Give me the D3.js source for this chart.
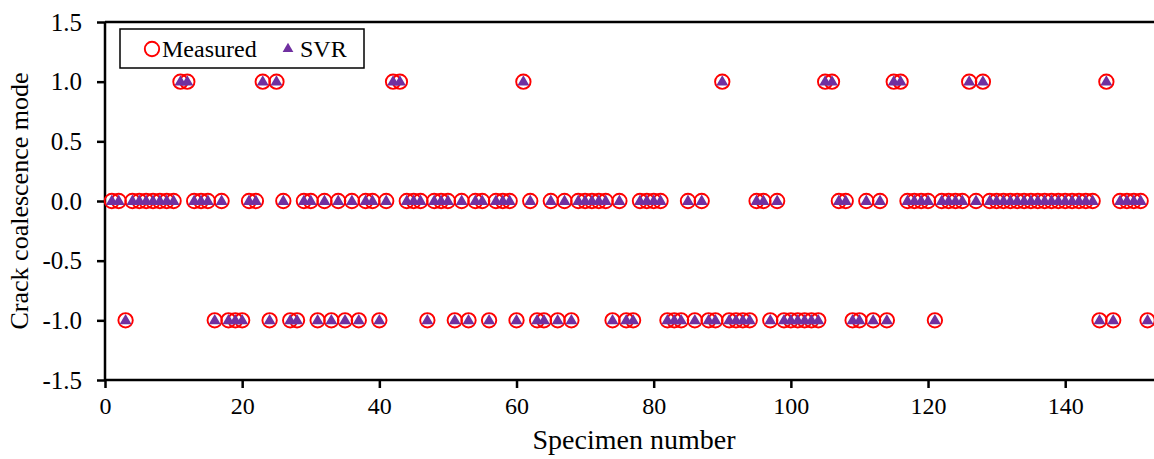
<!DOCTYPE html>
<html>
<head>
<meta charset="utf-8">
<script src="https://cdn.jsdelivr.net/npm/d3@7"></script>
<style>
  html, body { margin: 0; padding: 0; background: #fff; }
  svg { display: block; font-family: "Liberation Serif", "Times New Roman", serif; }
</style>
</head>
<body>
<svg id="chart" width="1154" height="459"></svg>
<script>
// Measured crack coalescence mode for specimens 1..152
const measured = [
  0, 0, -1, 0, 0, 0, 0, 0, 0, 0,
  1, 1, 0, 0, 0, -1, 0, -1, -1, -1,
  0, 0, 1, -1, 1, 0, -1, -1, 0, 0,
  -1, 0, -1, 0, -1, 0, -1, 0, 0, -1,
  0, 1, 1, 0, 0, 0, -1, 0, 0, 0,
  -1, 0, -1, 0, 0, -1, 0, 0, 0, -1,
  1, 0, -1, -1, 0, -1, 0, -1, 0, 0,
  0, 0, 0, -1, 0, -1, -1, 0, 0, 0,
  0, -1, -1, -1, 0, -1, 0, -1, -1, 1,
  -1, -1, -1, -1, 0, 0, -1, 0, -1, -1,
  -1, -1, -1, -1, 1, 1, 0, 0, -1, -1,
  0, -1, 0, -1, 1, 1, 0, 0, 0, 0,
  -1, 0, 0, 0, 0, 1, 0, 1, 0, 0,
  0, 0, 0, 0, 0, 0, 0, 0, 0, 0,
  0, 0, 0, 0, -1, 1, -1, 0, 0, 0,
  0, -1
];
// SVR predictions (identical to measured in the figure)
const svr = [
  0, 0, -1, 0, 0, 0, 0, 0, 0, 0,
  1, 1, 0, 0, 0, -1, 0, -1, -1, -1,
  0, 0, 1, -1, 1, 0, -1, -1, 0, 0,
  -1, 0, -1, 0, -1, 0, -1, 0, 0, -1,
  0, 1, 1, 0, 0, 0, -1, 0, 0, 0,
  -1, 0, -1, 0, 0, -1, 0, 0, 0, -1,
  1, 0, -1, -1, 0, -1, 0, -1, 0, 0,
  0, 0, 0, -1, 0, -1, -1, 0, 0, 0,
  0, -1, -1, -1, 0, -1, 0, -1, -1, 1,
  -1, -1, -1, -1, 0, 0, -1, 0, -1, -1,
  -1, -1, -1, -1, 1, 1, 0, 0, -1, -1,
  0, -1, 0, -1, 1, 1, 0, 0, 0, 0,
  -1, 0, 0, 0, 0, 1, 0, 1, 0, 0,
  0, 0, 0, 0, 0, 0, 0, 0, 0, 0,
  0, 0, 0, 0, -1, 1, -1, 0, 0, 0,
  0, -1
];
const specimens = measured.map((_, i) => i + 1);
const xTicks = [0, 20, 40, 60, 80, 100, 120, 140];
const yTicks = [-1.5, -1.0, -0.5, 0.0, 0.5, 1.0, 1.5];
const xTitle = "Specimen number";
const yTitle = "Crack coalescence mode";
const seriesNames = ["Measured", "SVR"];

const svg = d3.select("#chart");
const W = 1154, H = 459;
const m = { left: 105, right: 1, top: 22, bottom: 79 };

svg.append("rect").attr("width", W).attr("height", H).attr("fill", "#fff");

const x = d3.scaleLinear().domain([0, 152.8]).range([m.left, W - m.right]);
const y = d3.scaleLinear().domain([-1.5, 1.5]).range([H - m.bottom, m.top]);

// top border of plot area
svg.append("line")
  .attr("x1", m.left).attr("x2", W)
  .attr("y1", y(1.5)).attr("y2", y(1.5))
  .attr("stroke", "#000").attr("stroke-width", 2.5);

// X axis
const xAxis = svg.append("g")
  .attr("transform", `translate(0,${y(-1.5)})`)
  .call(d3.axisBottom(x).tickValues(xTicks).tickSize(8).tickPadding(9).tickFormat(d3.format("d")));
xAxis.select(".domain").attr("stroke", "#000").attr("stroke-width", 2.5)
  .attr("d", `M${m.left},0H${W}`);
xAxis.selectAll(".tick line").attr("stroke", "#000").attr("stroke-width", 2.5);
xAxis.selectAll(".tick text").attr("font-size", 24).attr("fill", "#000")
  .attr("font-family", "Liberation Serif, Times New Roman, serif");

// Y axis
const yAxis = svg.append("g")
  .attr("transform", `translate(${m.left},0)`)
  .call(d3.axisLeft(y).tickValues(yTicks).tickSize(8).tickPadding(15).tickFormat(d => d.toFixed(1)));
yAxis.select(".domain").attr("stroke", "#000").attr("stroke-width", 2.5)
  .attr("d", `M0,${y(1.5)}V${y(-1.5)}`);
yAxis.selectAll(".tick line").attr("stroke", "#000").attr("stroke-width", 2.5);
yAxis.selectAll(".tick text").attr("font-size", 25).attr("fill", "#000")
  .attr("font-family", "Liberation Serif, Times New Roman, serif");

// Axis titles
svg.append("text")
  .attr("x", 634).attr("y", 449)
  .attr("text-anchor", "middle")
  .attr("font-size", 28).attr("fill", "#000")
  .text(xTitle);

svg.append("text")
  .attr("transform", `translate(28,${y(0)}) rotate(-90)`)
  .attr("text-anchor", "middle")
  .attr("font-size", 26).attr("fill", "#000")
  .text(yTitle);

// Measured: red open circles
svg.append("g").selectAll("circle")
  .data(specimens)
  .join("circle")
  .attr("cx", (d, i) => x(d))
  .attr("cy", (d, i) => y(measured[i]))
  .attr("r", 7.2)
  .attr("fill", "none")
  .attr("stroke", "#ff0000")
  .attr("stroke-width", 1.9);

// SVR: purple triangles
const tri = d3.symbol().type(d3.symbolTriangle).size(62);
svg.append("g").selectAll("path")
  .data(specimens)
  .join("path")
  .attr("transform", (d, i) => `translate(${x(d)},${y(svr[i]) + 0.5})`)
  .attr("d", tri)
  .attr("fill", "#7030a0");

// Legend
const lg = svg.append("g");
lg.append("rect")
  .attr("x", 120).attr("y", 29).attr("width", 244).attr("height", 39)
  .attr("fill", "#fff").attr("stroke", "#000").attr("stroke-width", 1.5);
lg.append("circle")
  .attr("cx", 152).attr("cy", 49).attr("r", 7.2)
  .attr("fill", "none").attr("stroke", "#ff0000").attr("stroke-width", 1.9);
lg.append("text")
  .attr("x", 162).attr("y", 57)
  .attr("font-size", 24).attr("fill", "#000")
  .text(seriesNames[0]);
lg.append("path")
  .attr("transform", "translate(288,49)")
  .attr("d", d3.symbol().type(d3.symbolTriangle).size(50))
  .attr("fill", "#7030a0");
lg.append("text")
  .attr("x", 300).attr("y", 57)
  .attr("font-size", 24).attr("fill", "#000")
  .text(seriesNames[1]);
</script>
</body>
</html>
